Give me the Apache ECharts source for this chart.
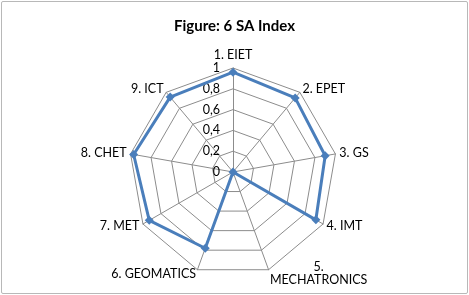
<!DOCTYPE html>
<html>
<head>
<meta charset="utf-8">
<script src="https://cdn.jsdelivr.net/npm/echarts@6/dist/echarts.min.js"></script>
<style>
  html, body { margin: 0; padding: 0; background: #fff; }
  #main { width: 465px; height: 291px; margin: 1px; border: 1px solid #b8b8b8; border-radius: 2px; }
</style>
</head>
<body>
<div id="main"></div>
<script>
// 数据
var categories = ['1. EIET', '2. EPET', '3. GS', '4. IMT', '5.\nMECHATRONICS',
  '6. GEOMATICS', '7. MET', '8. CHET', '9. ICT']
var saIndex = [0.96, 0.93, 0.9, 0.92, 0, 0.78, 0.93, 0.97, 0.94]

// echarts 雷达图是逆时针排列的，这里把顺序倒过来，让图上看起来是顺时针
var order = [0, 8, 7, 6, 5, 4, 3, 2, 1]

var myChart = echarts.init(document.getElementById('main'))

var option = {
  animation: false,
  textStyle: { fontFamily: 'Lato' },
  title: {
    text: 'Figure: 6 SA Index',
    left: 'center',
    top: 12,
    textStyle: { fontFamily: 'Lato', fontSize: 15, fontWeight: 'bold', color: '#000' }
  },
  radar: {
    center: [231, 170],
    radius: 104,
    shape: 'polygon',
    splitNumber: 5,
    startAngle: 90,
    indicator: order.map(function (i, k) {
      var ind = { name: categories[i], min: 0, max: 1 }
      // 只在第一条轴上显示刻度
      if (k > 0) ind.axisLabel = { show: false }
      return ind
    }),
    axisName: {
      color: '#000',
      fontSize: 12.5,
      fontFamily: 'Lato',
      // 多行的名字每行居中
      formatter: function (name) {
        return name.split('\n').map(function (s) { return '{c|' + s + '}' }).join('\n')
      },
      rich: { c: { align: 'center', fontSize: 12.5, fontFamily: 'Lato', color: '#000' } }
    },
    nameGap: 4,
    splitArea: { show: false },
    splitLine: { lineStyle: { color: '#8c8c8c', width: 1 } },
    axisLine: { lineStyle: { color: '#8c8c8c', width: 1 } },
    axisTick: { show: false },
    axisLabel: {
      show: true,
      color: '#000',
      fontSize: 12.5,
      margin: 13,
      formatter: function (v) { return String(v).replace('.', ',') }
    }
  },
  series: [{
    type: 'radar',
    symbol: 'diamond',
    symbolSize: 9,
    lineStyle: { color: '#4a7ebb', width: 3 },
    itemStyle: { color: '#4a7ebb' },
    data: [{ value: order.map(function (i) { return saIndex[i] }), name: 'SA Index' }]
  }]
}

myChart.setOption(option)
</script>
</body>
</html>
